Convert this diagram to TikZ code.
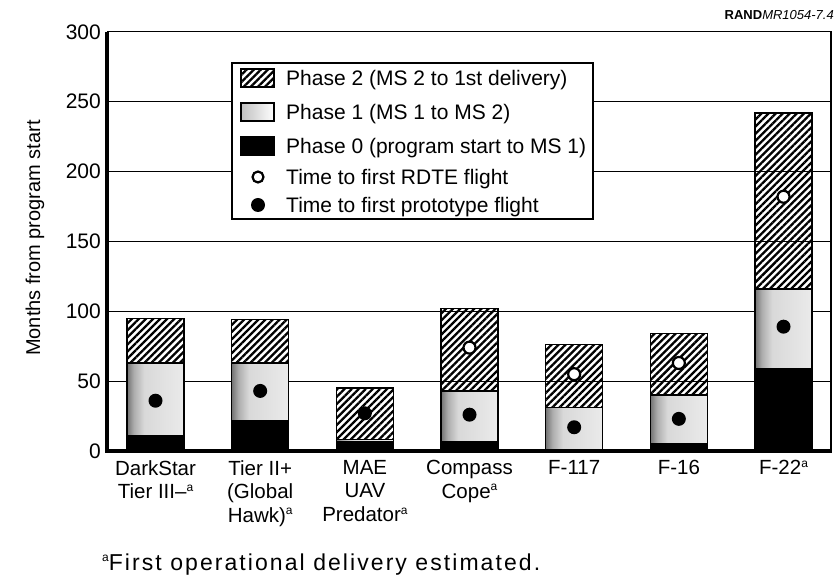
\documentclass[tikz,border=0pt]{standalone}
\usepackage{fontspec}
\setmainfont{Liberation Sans}
\newfontfamily\notefont[LetterSpace=9]{Liberation Sans}
\usetikzlibrary{patterns.meta}
\pgfdeclarehorizontalshading{stipple}{100bp}{color(0bp)=(black!55); color(25bp)=(black!55); color(31bp)=(black!32); color(40bp)=(black!15); color(75bp)=(black!8); color(100bp)=(black!8)}
\newcommand\supa{\raisebox{0.35em}{\fontsize{12}{12}\selectfont a}}

\begin{document}
\begin{tikzpicture}[x=1pt,y=1pt,
    phasetwo/.style={draw=black,line width=1.3pt,pattern={Lines[angle=45,distance=5pt,line width=2.3pt]}},
    phaseone/.style={draw=black,line width=1.3pt,shade,shading=stipple},
    phasezero/.style={draw=black,line width=1.3pt,fill=black},
    rdte/.style={circle,draw=black,fill=white,line width=2.2pt,inner sep=0pt,minimum size=12pt},
    proto/.style={circle,fill=black,inner sep=0pt,minimum size=14pt},
    gridline/.style={line width=1.2pt},
    bigtext/.style={font=\fontsize{21}{25}\selectfont},
    barlabel/.style={anchor=north,align=center,inner sep=0pt,font=\fontsize{20.5}{23.5}\selectfont}]
        \useasboundingbox (-107,-127) rectangle (727,451);

        %%% Grid %%%
        \begin{scope}[y=1.397pt]
        \foreach \v in {50,100,...,250}
            \draw[gridline] (0,\v)--(724,\v);
        \draw[gridline] (0,300)--(724,300)--(724,0);
        \foreach \v in {0,50,...,300}
            \node[bigtext,anchor=east,inner sep=0pt] (tick\v) at (-6,\v) {\v};

        %%% Bars %%%
        \foreach \i/\pz/\po/\pt in {0/11/63/95,1/22/63/94,2/7/8/45,3/7/43/102,4/0/31/76,5/5/40/84,6/59/116/242}{
            \pgfmathsetmacro\cx{48.5+104.67*\i}
            \path[phasetwo] (\cx-28.5,\po) rectangle (\cx+28.5,\pt);
            \path[phaseone] (\cx-28.5,\pz) rectangle (\cx+28.5,\po);
            \path[phasezero] (\cx-28.5,0) rectangle (\cx+28.5,\pz);
        }

        %%% Flights %%%
        \foreach \i/\m in {0/36,1/43,2/27,3/26,4/17,5/23,6/89}
            \node[proto] (proto\i) at (48.5+104.67*\i,\m) {};
        \foreach \i/\m in {3/74,4/55,5/63,6/182}
            \node[rdte] (rdte\i) at (48.5+104.67*\i,\m) {};

        %%% Axes %%%
        \draw[line width=3.5pt] (0,300)--(0,0)--(725,0);
        \end{scope}

        %%% Labels %%%
        \node[barlabel] (darkstar) at (48.5,-9) {DarkStar\\Tier III--\supa};
        \node[barlabel] (globalhawk) at (153.2,-9) {Tier II+\\(Global\\Hawk)\supa};
        \node[barlabel] (predator) at (257.9,-9) {MAE\\UAV\\Predator\supa};
        \node[barlabel] (compass) at (362.5,-9) {Compass\\Cope\supa};
        \node[barlabel] (fonetwo) at (467.2,-9) {F-117};
        \node[barlabel] (fsixteen) at (571.9,-9) {F-16};
        \node[barlabel] (ftwotwo) at (676.5,-9) {F-22\supa};
        \node[font=\fontsize{20}{24}\selectfont,rotate=90] (ytitle) at (-72,213) {Months from program start};
        \node[font=\notefont\fontsize{23}{27}\selectfont,anchor=base west,inner sep=0pt] (note) at (-5,-119) {\supa First operational delivery estimated.};
        \node[font=\fontsize{13}{15}\selectfont,anchor=east,inner sep=0pt] (rand) at (727,436) {{\bfseries RAND}{\itshape MR1054-7.4}};

        %%% Legend %%%
        \draw[fill=white,line width=1.4pt] (125,232) rectangle (486,388);
        \path[phasetwo] (134,364) rectangle (167,382);
        \path[phaseone,shading=axis,left color=black!25,right color=white] (134,330) rectangle (167,348);
        \path[phasezero] (134,296) rectangle (167,314);
        \node[rdte,minimum size=11pt] (keyrdte) at (151,274) {};
        \node[proto] (keyproto) at (151,246) {};
        \node[bigtext,anchor=base west,inner sep=0pt] (keytwo) at (179,365.5) {Phase 2 (MS 2 to 1st delivery)};
        \node[bigtext,anchor=base west,inner sep=0pt] (keyone) at (179,331.5) {Phase 1 (MS 1 to MS 2)};
        \node[bigtext,anchor=base west,inner sep=0pt] (keyzero) at (179,297.5) {Phase 0 (program start to MS 1)};
        \node[bigtext,anchor=base west,inner sep=0pt] (keyrdtetext) at (179,266.5) {Time to first RDTE flight};
        \node[bigtext,anchor=base west,inner sep=0pt] (keyprototext) at (179,238.5) {Time to first prototype flight};
\end{tikzpicture}
\end{document}
